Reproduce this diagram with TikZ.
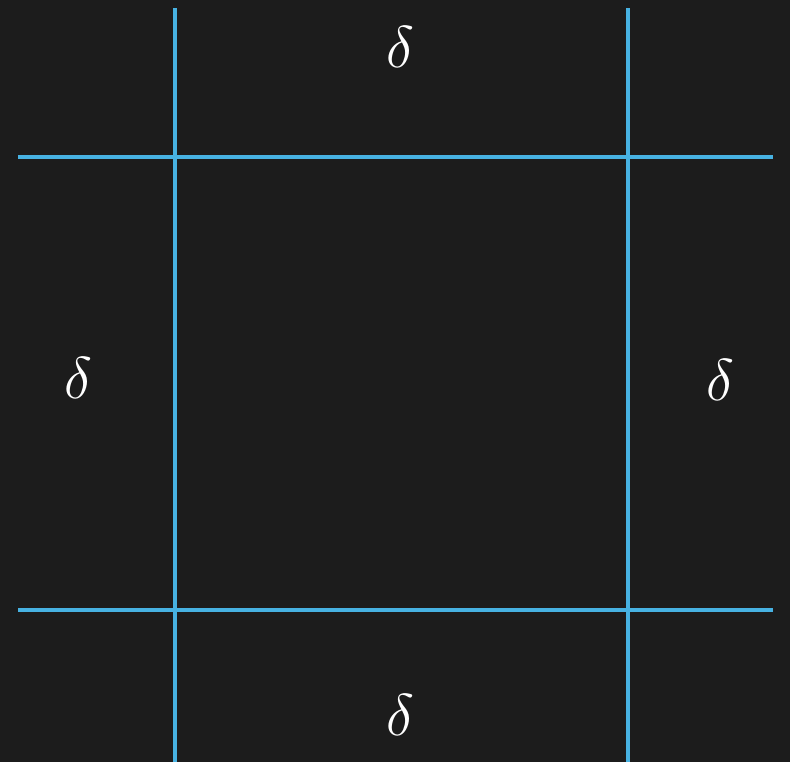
\documentclass[tikz,border=0pt]{standalone}
\usepackage{xcolor}
\usepackage{tikz}
\usepackage{amsmath,amssymb}
\definecolor{Board}{HTML}{1C1C1C}
\definecolor{Chalk}{HTML}{47B2E2}
\definecolor{Ink}{HTML}{FFFFFF}

\begin{document}
\begin{tikzpicture}[x=0.02cm,y=-0.02cm]
  \tikzset{gridline/.style={Chalk,line width=2.4pt},
    dlab/.style={text=Ink,font=\Huge,scale=1.35,inner sep=0pt}}
  \fill[Board] (0,0) rectangle (790,762);
  \useasboundingbox (0,0) rectangle (790,762);
  % cut lines
  \foreach \x/\n in {175/l,628/r} {
    \coordinate (v\n1) at (\x,8);
    \coordinate (v\n2) at (\x,762);
    \draw[gridline] (v\n1) -- (v\n2);
  }
  \foreach \y/\n in {157/t,610/b} {
    \coordinate (h\n1) at (18,\y);
    \coordinate (h\n2) at (773,\y);
    \draw[gridline] (h\n1) -- (h\n2);
  }
  % margins
  \node[dlab] (dtop) at (400,47) {$\delta$};
  \node[dlab] (dleft) at (78,378) {$\delta$};
  \node[dlab] (dright) at (720,380) {$\delta$};
  \node[dlab] (dbot) at (400,715) {$\delta$};
\end{tikzpicture}
\end{document}
